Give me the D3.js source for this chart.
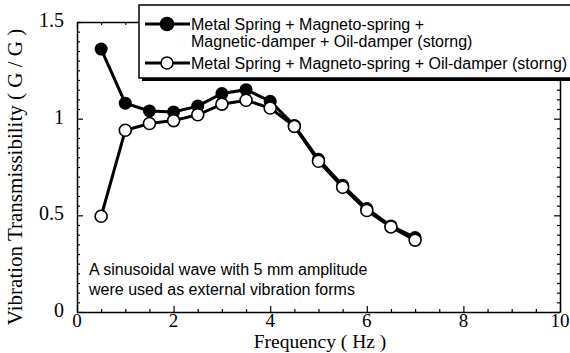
<!DOCTYPE html>
<html>
<head>
<meta charset="utf-8">
<script src="https://cdn.jsdelivr.net/npm/d3@7"></script>
<style>
  body { margin: 0; background: #fff; }
  svg { display: block; }
</style>
</head>
<body>
<div id="chart"></div>
<script>
// frequency (Hz)
const freq = [0.5, 1, 1.5, 2, 2.5, 3, 3.5, 4, 4.5, 5, 5.5, 6, 6.5, 7]
// metal spring + magneto-spring + magnetic-damper + oil-damper
const withMagDamper = [1.36, 1.08, 1.04, 1.035, 1.065, 1.13, 1.15, 1.09, 0.965, 0.79, 0.655, 0.535, 0.445, 0.385]
// metal spring + magneto-spring + oil-damper
const withoutMagDamper = [0.495, 0.94, 0.975, 0.99, 1.02, 1.075, 1.095, 1.055, 0.96, 0.78, 0.645, 0.525, 0.44, 0.372]

const xTicks = [0, 2, 4, 6, 8, 10]
const yTicks = [0, 0.5, 1, 1.5]
const legendLabels = [
  ["Metal Spring + Magneto-spring +", "Magnetic-damper + Oil-damper (storng)"],
  ["Metal Spring + Magneto-spring + Oil-damper (storng)"]
]
const noteLines = ["A sinusoidal wave with 5 mm amplitude", "were used as external vibration forms"]

const width = 570, height = 353
const m = {left: 77, right: 10, top: 22, bottom: 41}

const svg = d3.select("#chart").append("svg")
  .attr("width", width).attr("height", height)

const x = d3.scaleLinear().domain([0, 10]).range([m.left, width - m.right])
const y = d3.scaleLinear().domain([0, 1.5]).range([height - m.bottom, m.top])

const serif = "'Liberation Serif', 'Times New Roman', serif"
const sans = "'Liberation Sans', Arial, sans-serif"

// axes with inward ticks, minor every 0.5 Hz and 0.05
const minorX = d3.range(0, 10.01, 0.5)
const minorY = d3.range(0, 1.501, 0.05)
const isMajorY = d => yTicks.some(t => Math.abs(t - d) < 1e-6)

const gx = svg.append("g").attr("transform", `translate(0,${y(0)})`)
gx.call(d3.axisBottom(x).tickValues(minorX).tickSizeOuter(0).tickFormat(""))
gx.selectAll(".tick line").attr("y2", (d) => xTicks.includes(d) ? -6 : -3)

const gxt = svg.append("g").attr("transform", `translate(0,${y(1.5)})`)
gxt.call(d3.axisTop(x).tickValues(minorX).tickSizeOuter(0).tickFormat(""))
gxt.selectAll(".tick line").attr("y2", (d) => xTicks.includes(d) ? 6 : 3)

const gy = svg.append("g").attr("transform", `translate(${x(0)},0)`)
gy.call(d3.axisLeft(y).tickValues(minorY).tickSizeOuter(0).tickFormat(""))
gy.selectAll(".tick line").attr("x2", (d) => isMajorY(d) ? 6 : 3)

const gyr = svg.append("g").attr("transform", `translate(${x(10)},0)`)
gyr.call(d3.axisRight(y).tickValues(minorY).tickSizeOuter(0).tickFormat(""))
gyr.selectAll(".tick line").attr("x2", (d) => isMajorY(d) ? -6 : -3)

svg.selectAll(".domain").attr("stroke", "#000").attr("stroke-width", 1.5)
svg.selectAll(".tick line").attr("stroke", "#000").attr("stroke-width", 1.2)

// tick labels
svg.selectAll(".xlab").data(xTicks).enter().append("text")
  .attr("x", d => x(d)).attr("y", y(0) + 15)
  .attr("text-anchor", "middle")
  .style("font-family", serif).style("font-size", "19px")
  .text(d => d)

svg.selectAll(".ylab").data(yTicks).enter().append("text")
  .attr("x", x(0) - 13).attr("y", d => y(d) + 5)
  .attr("text-anchor", "end")
  .style("font-family", serif).style("font-size", "20px")
  .text(d => d)

svg.append("text")
  .attr("x", 320).attr("y", 348)
  .attr("text-anchor", "middle")
  .style("font-family", serif).style("font-size", "19.5px")
  .text("Frequency ( Hz )")

svg.append("text")
  .attr("transform", `translate(22,177) rotate(-90)`)
  .attr("text-anchor", "middle")
  .style("font-family", serif).style("font-size", "21px")
  .text("Vibration Transmissibility ( G / G )")

// series
const line = d3.line().x(d => x(d[0])).y(d => y(d[1]))
const s1 = freq.map((f, i) => [f, withMagDamper[i]])
const s2 = freq.map((f, i) => [f, withoutMagDamper[i]])

svg.append("path").datum(s1).attr("d", line)
  .attr("fill", "none").attr("stroke", "#000").attr("stroke-width", 3)
svg.append("path").datum(s2).attr("d", line)
  .attr("fill", "none").attr("stroke", "#000").attr("stroke-width", 3)

svg.selectAll(".p1").data(s1).enter().append("circle")
  .attr("cx", d => x(d[0])).attr("cy", d => y(d[1])).attr("r", 6.5)
  .attr("fill", "#000")
svg.selectAll(".p2").data(s2).enter().append("circle")
  .attr("cx", d => x(d[0])).attr("cy", d => y(d[1])).attr("r", 6)
  .attr("fill", "#fff").attr("stroke", "#000").attr("stroke-width", 1.6)

// note
svg.selectAll(".note").data(noteLines).enter().append("text")
  .attr("x", 89).attr("y", (d, i) => 275 + i * 20)
  .style("font-family", sans).style("font-size", "16px")
  .text(d => d)

// legend
const lg = svg.append("g")
lg.append("rect").attr("x", 142).attr("y", 8).attr("width", 440).attr("height", 73).attr("fill", "#000")
lg.append("rect").attr("x", 139).attr("y", 5).attr("width", 440).attr("height", 73)
  .attr("fill", "#fff").attr("stroke", "#000").attr("stroke-width", 1.5)

const rowY = [24, 63]
legendLabels.forEach((lines, i) => {
  lg.append("line").attr("x1", 145).attr("x2", 190).attr("y1", rowY[i]).attr("y2", rowY[i])
    .attr("stroke", "#000").attr("stroke-width", 3)
  lg.append("circle").attr("cx", 167).attr("cy", rowY[i]).attr("r", i === 0 ? 6.5 : 6)
    .attr("fill", i === 0 ? "#000" : "#fff").attr("stroke", "#000").attr("stroke-width", 1.6)
  lines.forEach((t, j) => {
    lg.append("text").attr("x", 191).attr("y", rowY[i] + 6 + j * 17)
      .style("font-family", sans).style("font-size", "16px")
      .text(t)
  })
})
</script>
</body>
</html>
